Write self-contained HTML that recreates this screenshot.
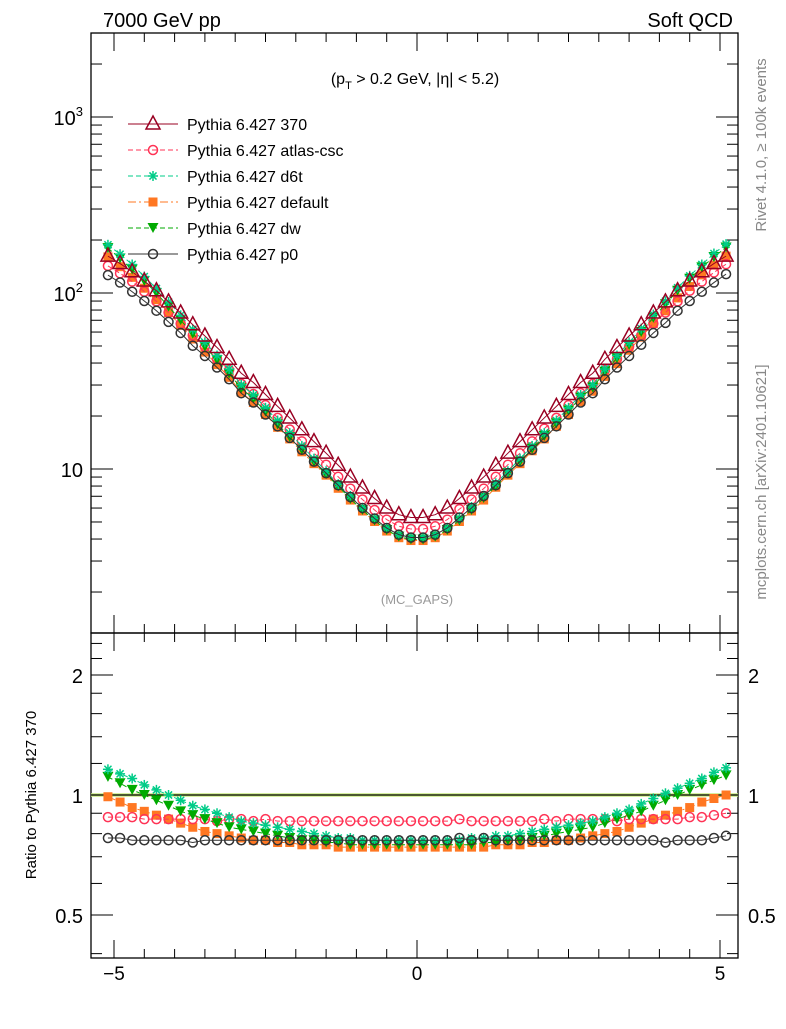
<!DOCTYPE html>
<html><head><meta charset="utf-8"><style>
body{margin:0;background:#fff;font-family:"Liberation Sans",sans-serif}
svg text{font-family:"Liberation Sans","DejaVu Sans",sans-serif}
</style></head><body>
<svg id="c" width="786" height="1024" viewBox="0 0 786 1024" xmlns="http://www.w3.org/2000/svg">
<text x="103" y="27" font-size="20">7000 GeV pp</text>
<text x="733" y="27" font-size="20" text-anchor="end">Soft QCD</text>
<text x="415" y="84" font-size="16" text-anchor="middle">(p<tspan font-size="11" dy="5">T</tspan><tspan dy="-5"> &gt; 0.2 GeV, |η| &lt; 5.2)</tspan></text>
<text x="417" y="604" font-size="13" fill="#999" text-anchor="middle">(MC_GAPS)</text>
<text transform="translate(766,145) rotate(-90)" font-size="15" fill="#888" text-anchor="middle">Rivet 4.1.0, ≥ 100k events</text>
<text transform="translate(766,482) rotate(-90)" font-size="15" fill="#888" text-anchor="middle">mcplots.cern.ch [arXiv:2401.10621]</text>
<text transform="translate(36,795) rotate(-90)" font-size="15" text-anchor="middle">Ratio to Pythia 6.427 370</text>
<g id="g"></g>
</svg>
<script>
const etas=[-5.1,-4.9,-4.7,-4.5,-4.3,-4.1,-3.9,-3.7,-3.5,-3.3,-3.1,-2.9,-2.7,-2.5,-2.3,-2.1,-1.9,-1.7,-1.5,-1.3,-1.1,-0.9,-0.7,-0.5,-0.3,-0.1,0.1,0.3,0.5,0.7,0.9,1.1,1.3,1.5,1.7,1.9,2.1,2.3,2.5,2.7,2.9,3.1,3.3,3.5,3.7,3.9,4.1,4.3,4.5,4.7,4.9,5.1];
const ref370=[162,147,132,117,103,89,77,66,57,49,42,35,31,26.5,22.7,19.5,16.7,14.3,12.3,10.5,9.0,7.8,6.8,6.0,5.5,5.3,5.3,5.5,6.0,6.8,7.8,9.0,10.5,12.3,14.3,16.7,19.5,22.7,26.5,31,35,42,49,57,66,77,89,103,117,132,147,162];
const rAtlas=[0.88,0.88,0.88,0.87,0.87,0.87,0.87,0.87,0.87,0.86,0.87,0.87,0.86,0.87,0.86,0.86,0.86,0.86,0.86,0.86,0.86,0.86,0.86,0.86,0.86,0.86,0.86,0.86,0.86,0.87,0.86,0.86,0.86,0.86,0.86,0.86,0.87,0.86,0.87,0.87,0.87,0.87,0.86,0.87,0.87,0.87,0.87,0.87,0.88,0.88,0.89,0.90];
const rD6t=[1.16,1.13,1.10,1.06,1.03,1.00,0.97,0.94,0.92,0.90,0.88,0.86,0.85,0.84,0.83,0.82,0.81,0.80,0.79,0.78,0.78,0.77,0.77,0.77,0.77,0.77,0.77,0.77,0.77,0.77,0.78,0.78,0.79,0.79,0.80,0.81,0.82,0.83,0.84,0.85,0.86,0.88,0.90,0.92,0.95,0.98,1.01,1.04,1.07,1.10,1.14,1.17];
const rDw=[1.11,1.07,1.03,1.00,0.97,0.94,0.91,0.89,0.87,0.85,0.83,0.82,0.81,0.80,0.79,0.78,0.77,0.77,0.76,0.76,0.75,0.75,0.75,0.75,0.75,0.75,0.75,0.75,0.75,0.75,0.75,0.76,0.76,0.77,0.77,0.78,0.79,0.80,0.81,0.82,0.83,0.85,0.87,0.89,0.91,0.94,0.97,1.00,1.03,1.06,1.09,1.12];
const rDefault=[0.99,0.96,0.93,0.91,0.89,0.87,0.85,0.83,0.81,0.80,0.79,0.78,0.77,0.77,0.76,0.76,0.75,0.75,0.75,0.74,0.74,0.74,0.74,0.74,0.74,0.74,0.74,0.74,0.74,0.74,0.74,0.74,0.75,0.75,0.75,0.76,0.76,0.77,0.77,0.78,0.79,0.80,0.81,0.83,0.85,0.87,0.89,0.91,0.93,0.96,0.98,1.00];
const rP0=[0.78,0.78,0.77,0.77,0.77,0.77,0.77,0.76,0.77,0.77,0.77,0.77,0.77,0.77,0.77,0.77,0.77,0.77,0.77,0.77,0.77,0.77,0.77,0.77,0.77,0.77,0.77,0.77,0.77,0.78,0.77,0.78,0.77,0.77,0.77,0.77,0.77,0.77,0.77,0.77,0.77,0.77,0.77,0.77,0.77,0.77,0.76,0.77,0.77,0.77,0.78,0.79];
const xTicks=[-5,0,5];
const ratioTicks=[2,1,0.5];

const L=91,R=738,T=33,M=633,B=958;
const X=e=>417+e*60.6;
const Y=v=>469-(Math.log10(v)-1)*176;
const YR=r=>795-Math.log2(r)*120;
const g=document.getElementById('g');
const NS='http://www.w3.org/2000/svg';
function el(t,a,p){const e=document.createElementNS(NS,t);for(const k in a)e.setAttribute(k,a[k]);(p||g).appendChild(e);return e;}

let f1=el('rect',{x:L,y:T,width:R-L,height:M-T,fill:'none',stroke:'#000','stroke-width':1.3});


let f2=el('rect',{x:L,y:M,width:R-L,height:B-M,fill:'none',stroke:'#000','stroke-width':1.3});



for(let v=-5.5;v<=5.51;v+=0.5){
  const maj=Math.abs(v-Math.round(v))<1e-6&&Math.round(v)%5===0;
  const len=maj?18:9;const x=X(v);
  if(x<L||x>R)continue;
  for(const [y0,d] of [[M,-1],[T,1],[B,-1],[M,1]])el('line',{x1:x,x2:x,y1:y0,y2:y0+d*len,stroke:'#000'});
}
xTicks.forEach(v=>{
  const t=el('text',{x:X(v),y:980,'font-size':19,'text-anchor':'middle'});
  t.textContent=v<0?'−'+(-v):String(v);
  
  
});
for(let d=0;d<4;d++)for(let m=1;m<10;m++){
  const v=m*Math.pow(10,d);const y=Y(v);
  if(y<T||y>M)continue;
  const len=m===1?22:11;
  el('line',{x1:L,x2:L+len,y1:y,y2:y,stroke:'#000'});
  el('line',{x1:R,x2:R-len,y1:y,y2:y,stroke:'#000'});
}
[[2,Y(100)],[3,Y(1000)]].forEach(([p,y])=>{
  const t=el('text',{x:83,y:y+8,'font-size':20,'text-anchor':'end'});
  t.innerHTML='10<tspan font-size="13" dy="-9">'+p+'</tspan>';
  
  
});
{const t=el('text',{x:83,y:Y(10)+8,'font-size':20,'text-anchor':'end'});t.textContent='10';

}
[0.4,0.5,0.6,0.7,0.8,0.9,1,1.2,1.4,1.6,1.8,2,2.2,2.4].forEach(v=>{
  const y=YR(v);if(y<M||y>B)return;
  const len=(v===0.5||v===1||v===2)?22:11;
  el('line',{x1:L,x2:L+len,y1:y,y2:y,stroke:'#000'});
  el('line',{x1:R,x2:R-len,y1:y,y2:y,stroke:'#000'});
});
ratioTicks.forEach(v=>{
  [[83,'end'],[748,'start']].forEach(([x,a])=>{
    const t=el('text',{x:x,y:YR(v)+8,'font-size':20,'text-anchor':a});t.textContent=String(v);
    
    
  });
});
el('line',{x1:L,x2:R,y1:YR(1),y2:YR(1),stroke:'#c8ec80','stroke-width':3.5});
el('line',{x1:L,x2:R,y1:YR(1),y2:YR(1),stroke:'#000','stroke-width':1.2});

function marker(type,x,y,c,p){
  const sw=1.5;
  if(type==='tri')return el('polygon',{points:`${x},${y-8} ${x-7},${y+5} ${x+7},${y+5}`,fill:'none',stroke:c,'stroke-width':sw},p);
  if(type==='circ')return el('circle',{cx:x,cy:y,r:4.5,fill:'none',stroke:c,'stroke-width':sw},p);
  if(type==='sq')return el('rect',{x:x-4.5,y:y-4.5,width:9,height:9,fill:c},p);
  if(type==='dtri')return el('polygon',{points:`${x-5.5},${y-5} ${x+5.5},${y-5} ${x},${y+5}`,fill:c},p);
  if(type==='star'){const s=el('g',{stroke:c,'stroke-width':1.5},p);
    for(let a=0;a<4;a++){const an=a*Math.PI/4;el('line',{x1:x-5*Math.cos(an),y1:y-5*Math.sin(an),x2:x+5*Math.cos(an),y2:y+5*Math.sin(an)},s);}return s;}
}
const series=[
 {name:'Pythia 6.427 370',r:null,c:'#990022',m:'tri',dash:''},
 {name:'Pythia 6.427 atlas-csc',r:rAtlas,c:'#ff3355',m:'circ',dash:'5,3'},
 {name:'Pythia 6.427 d6t',r:rD6t,c:'#00cc88',m:'star',dash:'5,3'},
 {name:'Pythia 6.427 default',r:rDefault,c:'#ff7722',m:'sq',dash:'8,3,2,3'},
 {name:'Pythia 6.427 dw',r:rDw,c:'#00aa00',m:'dtri',dash:'5,3'},
 {name:'Pythia 6.427 p0',r:rP0,c:'#333333',m:'circ',dash:''}
];
const order=[3,1,4,2,0,5];
order.forEach(i=>{
  const s=series[i];
  const vals=ref370.map((v,k)=>s.r?v*s.r[k]:v);
  const rat=ref370.map((v,k)=>s.r?s.r[k]:1);
  const grp=el('g',{});
  
  
  el('polyline',{points:etas.map((e,k)=>X(e)+','+Y(vals[k])).join(' '),fill:'none',stroke:s.c,'stroke-width':1,'stroke-dasharray':s.dash},grp);
  etas.forEach((e,k)=>{const mk=marker(s.m,X(e),Y(vals[k]),s.c,grp);
    
    });
  if(s.r){
    const rg=el('g',{});
    
    
    el('polyline',{points:etas.map((e,k)=>X(e)+','+YR(rat[k])).join(' '),fill:'none',stroke:s.c,'stroke-width':1,'stroke-dasharray':s.dash},rg);
    etas.forEach((e,k)=>{const mk=marker(s.m,X(e),YR(rat[k]),s.c,rg);
      
      });
  }
});
series.forEach((s,i)=>{
  const y=124+i*26;
  const lg=el('g',{});
  
  
  el('line',{x1:128,x2:178,y1:y,y2:y,stroke:s.c,'stroke-width':1,'stroke-dasharray':s.dash},lg);
  marker(s.m,153,y,s.c,lg);
  const t=el('text',{x:187,y:y+6,'font-size':16},lg);t.textContent=s.name;
});
</script>
</body></html>
